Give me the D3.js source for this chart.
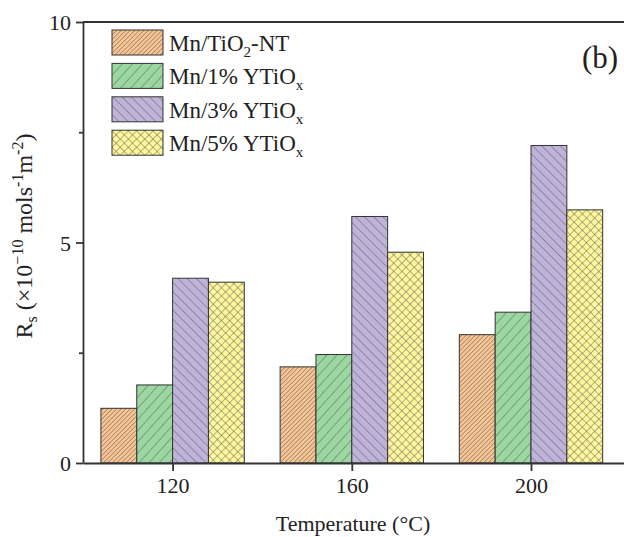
<!DOCTYPE html>
<html>
<head>
<meta charset="utf-8">
<script src="https://cdn.jsdelivr.net/npm/d3@7"></script>
<style>
  body { margin: 0; background: #fff; }
</style>
</head>
<body>
<svg id="chart" width="624" height="537"></svg>
<script>
// Data
const temperatures = [120, 160, 200];
const seriesNames = ["Mn/TiO2-NT", "Mn/1% YTiOx", "Mn/3% YTiOx", "Mn/5% YTiOx"];
const tiO2NT = [1.24, 2.18, 2.91];
const ytio1 = [1.77, 2.46, 3.42];
const ytio3 = [4.19, 5.59, 7.20];
const ytio5 = [4.10, 4.78, 5.74];
const yTicks = [0, 5, 10];
const yMinorTicks = [2.5, 7.5];

const allSeries = [tiO2NT, ytio1, ytio3, ytio5];
const fills = ["#F9C592", "#9BD7A1", "#C0B3DA", "#FFF79C"];
const hatchStroke = "#555";

const svg = d3.select("#chart")
    .attr("font-family", "'Liberation Serif', 'Times New Roman', serif");
const margin = { top: 22, left: 83 };
const plotBottom = 463;

// Scales: x is a linear temperature scale, each bar is 8 degrees wide
const x = d3.scaleLinear()
    .domain([100, 224])
    .range([margin.left, margin.left + 124 * 4.48]);
const barW = 8;
const y = d3.scaleLinear()
    .domain([0, 10])
    .range([plotBottom, margin.top]);

// Hatch patterns
const defs = svg.append("defs");
function hatch(id, color, spacing, angle, cross) {
    const p = defs.append("pattern")
        .attr("id", id)
        .attr("patternUnits", "userSpaceOnUse")
        .attr("width", spacing)
        .attr("height", spacing)
        .attr("patternTransform", `rotate(${angle})`);
    p.append("rect").attr("width", spacing).attr("height", spacing).attr("fill", color);
    p.append("line")
        .attr("x1", 0).attr("y1", -1).attr("x2", 0).attr("y2", spacing + 1)
        .attr("stroke", hatchStroke).attr("stroke-width", 0.9);
    if (cross) {
        p.append("line")
            .attr("x1", -1).attr("y1", 0).attr("x2", spacing + 1).attr("y2", 0)
            .attr("stroke", hatchStroke).attr("stroke-width", 0.9);
    }
}
hatch("pat0", fills[0], 3.2, 45, false);
hatch("pat1", fills[1], 7.5, 42, false);
hatch("pat2", fills[2], 6.5, -45, false);
hatch("pat3", fills[3], 5.8, 45, true);

// Bars
allSeries.forEach((vals, s) => {
    svg.append("g")
        .selectAll("rect")
        .data(vals)
        .join("rect")
        .attr("x", (d, i) => x(temperatures[i] - 2 * barW + s * barW))
        .attr("y", d => y(d))
        .attr("width", x(barW) - x(0))
        .attr("height", d => y(0) - y(d))
        .attr("fill", `url(#pat${s})`)
        .attr("stroke", "#333")
        .attr("stroke-width", 1);
});

// Axes
const axisColor = "#333";
const xAxis = svg.append("g")
    .attr("transform", `translate(0,${plotBottom})`)
    .call(d3.axisBottom(x).tickValues(temperatures).tickSize(8).tickSizeOuter(0).tickPadding(6));
const yAxis = svg.append("g")
    .attr("transform", `translate(${margin.left},0)`)
    .call(d3.axisLeft(y).tickValues(yTicks).tickSize(7).tickSizeOuter(0).tickPadding(5));
const yMinor = svg.append("g")
    .attr("transform", `translate(${margin.left},0)`)
    .call(d3.axisLeft(y).tickValues(yMinorTicks).tickSize(4).tickFormat(""));
yMinor.select(".domain").remove();

[xAxis, yAxis, yMinor].forEach(g => {
    g.attr("font-family", null).attr("font-size", null);
    g.selectAll("path, line").attr("stroke", axisColor).attr("stroke-width", 1.8);
    g.selectAll("text")
        .attr("fill", "#222")
        .style("font-size", "22px");
});
yAxis.selectAll("text").attr("dy", "0.35em");

// Top frame line
svg.append("line")
    .attr("x1", x(100)).attr("x2", 640)
    .attr("y1", y(10)).attr("y2", y(10))
    .attr("stroke", axisColor).attr("stroke-width", 1.8);

// Axis titles
svg.append("text")
    .attr("x", 353)
    .attr("y", 531)
    .attr("text-anchor", "middle")
    .attr("fill", "#222")
    .style("font-size", "22px")
    .text("Temperature (°C)");

const yTitle = svg.append("text")
    .attr("transform", "translate(32,236) rotate(-90)")
    .attr("text-anchor", "middle")
    .attr("fill", "#222")
    .style("font-size", "24px");
yTitle.append("tspan").text("R");
yTitle.append("tspan").attr("dy", 5).style("font-size", "16px").text("s");
yTitle.append("tspan").attr("dy", -5).text(" (×10");
yTitle.append("tspan").attr("dy", -9).style("font-size", "16px").text("−10");
yTitle.append("tspan").attr("dy", 9).text(" mols");
yTitle.append("tspan").attr("dy", -9).style("font-size", "16px").text("-1");
yTitle.append("tspan").attr("dy", 9).text("m");
yTitle.append("tspan").attr("dy", -9).style("font-size", "16px").text("-2");
yTitle.append("tspan").attr("dy", 9).text(")");

// Panel label
svg.append("text")
    .attr("x", 582)
    .attr("y", 68)
    .attr("fill", "#222")
    .style("font-size", "31px")
    .text("(b)");

// Legend
const legend = svg.append("g").attr("transform", "translate(112,30)");
const legendParts = [
    ["Mn/TiO", "2", "-NT"],
    ["Mn/1% YTiO", "x", ""],
    ["Mn/3% YTiO", "x", ""],
    ["Mn/5% YTiO", "x", ""]
];
seriesNames.forEach((name, i) => {
    const row = legend.append("g").attr("transform", `translate(0,${i * 33.4})`);
    row.append("rect")
        .attr("width", 51).attr("height", 25)
        .attr("fill", `url(#pat${i})`)
        .attr("stroke", "#333").attr("stroke-width", 1);
    const t = row.append("text")
        .attr("x", 57).attr("y", 21)
        .attr("fill", "#222")
        .style("font-size", "23px");
    const parts = legendParts[i];
    t.append("tspan").text(parts[0]);
    t.append("tspan").attr("dy", 6).style("font-size", "15px").text(parts[1]);
    if (parts[2]) t.append("tspan").attr("dy", -6).text(parts[2]);
});
</script>
</body>
</html>
